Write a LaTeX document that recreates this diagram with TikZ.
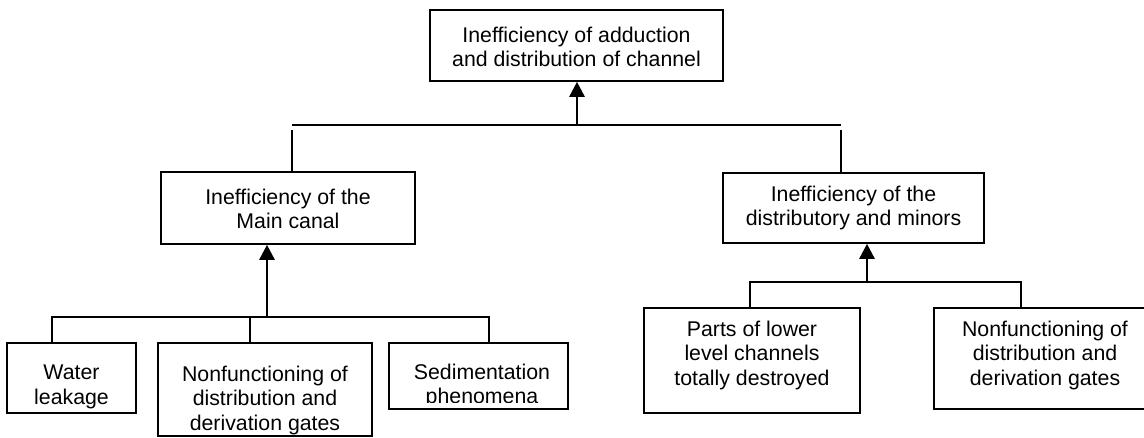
\documentclass[tikz,border=0pt]{standalone}
\usepackage{fontspec}
\setmainfont{Liberation Sans}
\usetikzlibrary{arrows.meta}
\begin{document}
\begin{tikzpicture}[x=1pt,y=-1pt,
  box/.style={draw, line width=1.6pt, inner sep=0pt, rectangle},
  txt/.style={align=center, inner sep=0pt, font=\fontsize{21.3}{24.5}\selectfont},
  conn/.style={line width=1.5pt},
  arr/.style={line width=2.6pt, -{Triangle[width=15pt,length=15pt]}}]
\useasboundingbox[fill=white] (0,0) rectangle (1144,437);

% boxes
\node[box, minimum width=293pt, minimum height=71pt] (top) at (576.5,45.5) {};
\node[box, minimum width=254pt, minimum height=72pt] (main) at (288,208) {};
\node[box, minimum width=261pt, minimum height=70pt] (dist) at (853.5,208) {};
\node[box, minimum width=129pt, minimum height=70pt] (water) at (71.5,378) {};
\node[box, minimum width=214pt, minimum height=93pt] (nfL) at (265,389.5) {};
\node[box, minimum width=179pt, minimum height=66pt] (sed) at (478.5,376) {};
\node[box, minimum width=216pt, minimum height=105pt] (parts) at (752,360.5) {};
\node[box, minimum width=222pt, minimum height=101pt] (nfR) at (1045,358.5) {};

% texts
\node[txt] (topT) at (576.5,47) {Inefficiency of adduction\\and distribution of channel};
\node[txt] (mainT) at (288,209) {Inefficiency of the\\Main canal};
\node[txt] (distT) at (853.5,208) {Inefficiency of the\\distributory and minors};
\node[txt] (waterT) at (71.5,387) {Water\\leakage};
\node[txt] (nfLT) at (265,400) {Nonfunctioning of\\distribution and\\derivation gates};
\begin{scope}
\clip (390,344) rectangle (567,402);
\node[txt] (sedT) at (482,386) {Sedimentation\\phenomena};
\end{scope}
\node[txt] (partsT) at (752,355) {Parts of lower\\level channels\\totally destroyed};
\node[txt] (nfRT) at (1045,355) {Nonfunctioning of\\distribution and\\derivation gates};

% top level connectors
\coordinate (hL) at (292,125);
\coordinate (hR) at (841,125);
\coordinate (hM) at (577,125);
\draw[conn] (hL) -- (hR);
\draw[conn] ([yshift=-5pt]hL) -- (hL |- main.north);
\draw[conn] ([yshift=-5pt]hR) -- (hR |- dist.north);
\draw[arr] (hM) -- (hM |- top.south);

% main canal connectors
\coordinate (m1) at (52,317);
\coordinate (m2) at (250,317);
\coordinate (m3) at (489,317);
\coordinate (mA) at (267,317);
\draw[conn] (m1 |- water.north) -- (m1) -- (m3) -- (m3 |- sed.north);
\draw[conn] (m2) -- (m2 |- nfL.north);
\draw[arr] (mA) -- (mA |- main.south);

% distributory connectors
\coordinate (d1) at (750,282);
\coordinate (d2) at (1021,282);
\coordinate (dA) at (867,282);
\draw[conn] (d1 |- parts.north) -- (d1) -- (d2) -- (d2 |- nfR.north);
\draw[arr] (dA) -- (dA |- dist.south);
\end{tikzpicture}
\end{document}
